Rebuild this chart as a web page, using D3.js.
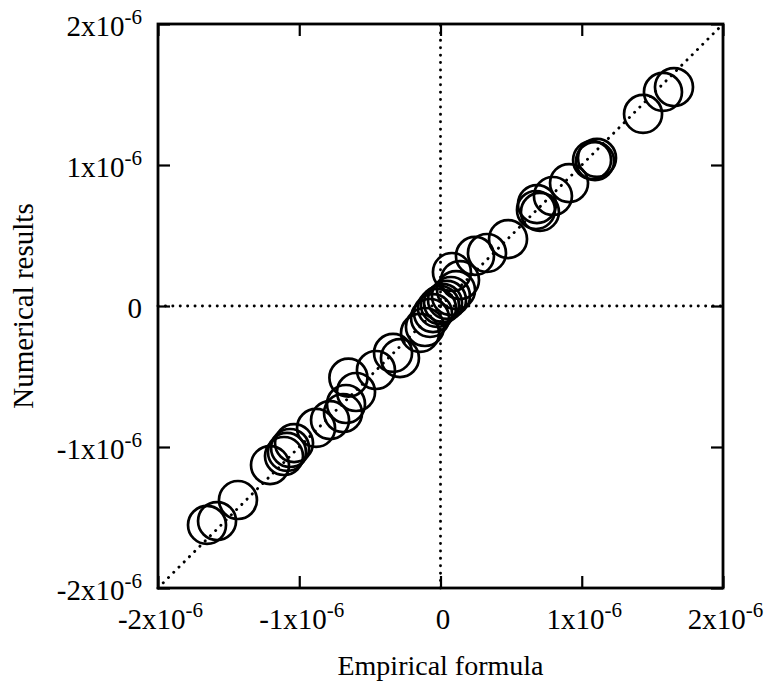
<!DOCTYPE html>
<html>
<head>
<meta charset="utf-8">
<script src="https://cdn.jsdelivr.net/npm/d3@7"></script>
<style>
  body { margin: 0; background: #fff; }
  text { font-family: "Liberation Serif", "Times New Roman", serif; fill: #000; }
</style>
</head>
<body>
<svg id="chart" width="769" height="682"></svg>
<script>
'use strict';

// tick positions and their labels (mantissa, exponent)
var tickValues   = [-2e-6, -1e-6, 0, 1e-6, 2e-6];
var tickMantissa = ["-2x10", "-1x10", "0", "1x10", "2x10"];
var tickExponent = ["-6", "-6", "", "-6", "-6"];

// empirical formula (x) vs numerical results (y)
var empirical = [
  -1.653e-6, -1.582e-6, -1.434e-6, -1.207e-6, -1.108e-6, -1.087e-6, -1.065e-6, -1.037e-6,
  -0.881e-6, -0.782e-6, -0.690e-6, -0.669e-6, -0.598e-6, -0.652e-6, -0.457e-6, -0.336e-6,
  -0.287e-6, -0.145e-6, -0.110e-6, -0.074e-6, -0.053e-6, -0.025e-6, -0.004e-6, 0.018e-6,
  0.046e-6, 0.074e-6, 0.110e-6, 0.138e-6, 0.081e-6, 0.244e-6, 0.329e-6, 0.478e-6,
  0.676e-6, 0.683e-6, 0.704e-6, 0.796e-6, 0.910e-6, 1.073e-6, 1.094e-6, 1.108e-6,
  1.434e-6, 1.575e-6, 1.653e-6
];
var numerical = [
  -1.553e-6, -1.525e-6, -1.376e-6, -1.128e-6, -1.064e-6, -1.035e-6, -1.007e-6, -0.972e-6,
  -0.865e-6, -0.809e-6, -0.759e-6, -0.695e-6, -0.610e-6, -0.508e-6, -0.454e-6, -0.333e-6,
  -0.369e-6, -0.191e-6, -0.149e-6, -0.085e-6, -0.050e-6, -0.014e-6, 0.007e-6, 0.021e-6,
  0.043e-6, 0.071e-6, 0.113e-6, 0.184e-6, 0.241e-6, 0.355e-6, 0.376e-6, 0.475e-6,
  0.681e-6, 0.723e-6, 0.667e-6, 0.780e-6, 0.872e-6, 1.035e-6, 1.028e-6, 1.050e-6,
  1.362e-6, 1.518e-6, 1.553e-6
];

var margin = {top: 24, right: 46, bottom: 94, left: 158},
    width  = 769 - margin.left - margin.right,
    height = 682 - margin.top - margin.bottom;

var svg = d3.select("#chart"),
    g = svg.append("g").attr("transform", "translate(" + margin.left + "," + margin.top + ")");

var x = d3.scaleLinear().domain([-2e-6, 2e-6]).range([0, width]),
    y = d3.scaleLinear().domain([-2e-6, 2e-6]).range([height, 0]);

// dotted reference lines: zero axes and the diagonal
function dotLine(x1, y1, x2, y2) {
  g.append("line")
    .attr("x1", x(x1)).attr("y1", y(y1))
    .attr("x2", x(x2)).attr("y2", y(y2))
    .attr("stroke", "#000")
    .attr("stroke-width", 2.9)
    .attr("stroke-linecap", "round")
    .attr("stroke-dasharray", "0.1,7.3");
}
dotLine(-2e-6, 0, 2e-6, 0);
dotLine(0, -2e-6, 0, 2e-6);
dotLine(-2e-6, -2e-6, 2e-6, 2e-6);

// points
g.selectAll("circle.pt").data(empirical)
  .enter().append("circle")
  .attr("class", "pt")
  .attr("cx", function(d){ return x(d); })
  .attr("cy", function(d, i){ return y(numerical[i]); })
  .attr("r", 19)
  .attr("fill", "none")
  .attr("stroke", "#000")
  .attr("stroke-width", 2.7);

// axes with inward ticks on all four sides
function styleAxis(sel) {
  sel.select(".domain").remove();
  sel.selectAll(".tick line").attr("stroke", "#000").attr("stroke-width", 2.2);
  sel.selectAll(".tick text").remove();
}
var bottom = g.append("g").attr("transform", "translate(0," + height + ")")
  .call(d3.axisBottom(x).tickValues(tickValues).tickSize(-12)).call(styleAxis);
g.append("g")
  .call(d3.axisTop(x).tickValues(tickValues).tickSize(-12)).call(styleAxis);
var left = g.append("g")
  .call(d3.axisLeft(y).tickValues(tickValues).tickSize(-12)).call(styleAxis);
g.append("g").attr("transform", "translate(" + width + ",0)")
  .call(d3.axisRight(y).tickValues(tickValues).tickSize(-12)).call(styleAxis);

function label(sel, anchor, dx, dy) {
  sel.each(function(d){
    var i = tickValues.indexOf(d);
    var t = d3.select(this).append("text")
      .attr("text-anchor", anchor)
      .attr("x", dx).attr("y", dy)
      .style("font-size", "29px");
    t.append("tspan").text(tickMantissa[i]);
    if (tickExponent[i]) {
      t.append("tspan").attr("dy", -12).style("font-size", "21px").text(tickExponent[i]);
    }
  });
}
bottom.selectAll(".tick").call(label, "middle", 2, 41);
left.selectAll(".tick").call(label, "end", -16, 11);

// frame
g.append("rect")
  .attr("width", width).attr("height", height)
  .attr("fill", "none").attr("stroke", "#000").attr("stroke-width", 2.8);

// axis titles
svg.append("text")
  .attr("x", margin.left + width / 2).attr("y", 675)
  .attr("text-anchor", "middle").style("font-size", "28px")
  .text("Empirical formula");
svg.append("text")
  .attr("transform", "translate(33," + (margin.top + height / 2) + ") rotate(-90)")
  .attr("text-anchor", "middle").style("font-size", "29px")
  .text("Numerical results");
</script>
</body>
</html>
